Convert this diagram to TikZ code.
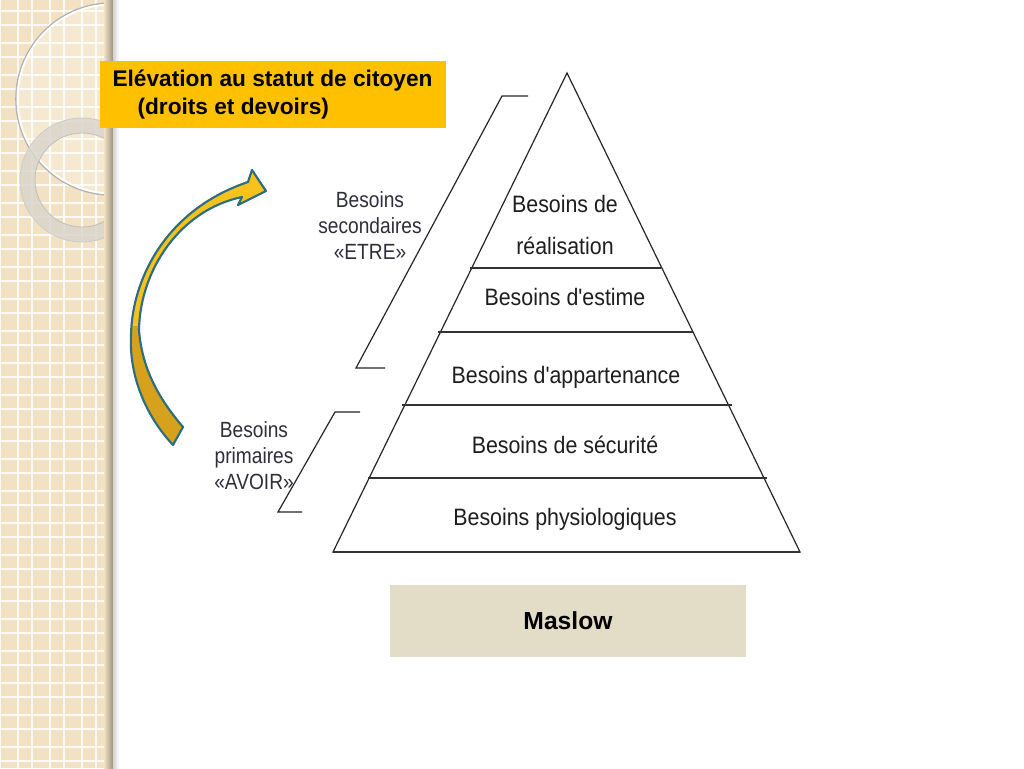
\documentclass[tikz,border=0pt]{standalone}
\usepackage{fontspec}
\setmainfont{Liberation Sans}
\newfontfamily\narrowfont[FakeStretch=0.9]{Liberation Sans}
\newfontfamily\labelfont[FakeStretch=0.87]{Liberation Sans}
\definecolor{stripbeige}{HTML}{F2E2C3}
\definecolor{ringgray}{HTML}{DAD6CC}
\definecolor{citoyen}{HTML}{FFC000}
\definecolor{maslowbg}{HTML}{E3DCC6}
\definecolor{arrowtop}{HTML}{F7C21C}
\definecolor{arrowbot}{HTML}{D6A11C}
\definecolor{arrowline}{HTML}{2C6E7E}
\definecolor{labelcol}{HTML}{2E2E3C}
\definecolor{pyrtext}{HTML}{1E1E1E}
\tikzset{
  gridline/.style={white, line width=1.1pt, opacity=0.85},
  pyrline/.style={line width=0.9pt, black!85},
  levelline/.style={line width=1.3pt, black!80},
  pyrlabel/.style={font=\narrowfont\fontsize{17.8}{20}\selectfont, text=pyrtext, anchor=base, inner sep=0pt},
  sidelabel/.style={font=\labelfont\fontsize{16.5}{19.5}\selectfont, text=labelcol, align=center, inner sep=0pt},
  bracket/.style={line width=0.9pt, black!85},
  citbox/.style={fill=citoyen, minimum width=259.5pt, minimum height=50.25pt, align=left, inner sep=0pt, font=\bfseries\fontsize{17}{20.5}\selectfont},
  maslowbox/.style={fill=maslowbg, minimum width=267pt, minimum height=54pt, inner sep=0pt, font=\bfseries\fontsize{18.5}{22}\selectfont}
}
\begin{document}
\begin{tikzpicture}[x=0.75pt,y=-0.75pt]
\useasboundingbox (0,0) rectangle (1024,768);
\fill[white] (0,0) rectangle (1024,768);
% left decorative strip
\fill[stripbeige] (0,0) rectangle (113,768);
\foreach \k in {0,...,3} {
  \draw[gridline] ({18+32*\k},0) -- ({18+32*\k},768);
  \draw[gridline] ({0+32*\k},0) -- ({0+32*\k},768);
}
\foreach \k in {0,...,23} {
  \draw[gridline] (0,{11+32*\k}) -- (113,{11+32*\k});
  \draw[gridline] (0,{25+32*\k}) -- (113,{25+32*\k});
}
\begin{scope}
  \clip (0,0) rectangle (113,768);
  \fill[white, opacity=0.25] (112,99) circle[radius=95];
  \draw[black!30, line width=1.2pt] (112,99) circle[radius=96];
  \draw[white, line width=1.4pt] (112,99) circle[radius=94.5];
  \fill[ringgray, opacity=0.85, even odd rule] (82,180) circle[radius=62] (82,180) circle[radius=47];
  \draw[black!20, line width=0.6pt] (82,180) circle[radius=62];
  \draw[black!25, line width=0.6pt] (82,180) circle[radius=47];
\end{scope}
\shade[left color=stripbeige, right color=black!35!stripbeige] (104,0) rectangle (113,768);
\shade[left color=black!18, right color=white] (113,0) rectangle (119,768);

% citizen box
\node[citbox] (cit) at (272.5,94.5) {Elévation au statut de citoyen\\\hspace*{18.75pt}(droits et devoirs)};

% curved arrow
\def\arrowpath{(173,445) .. controls (145,415) and (129,375) .. (131,335)
  .. controls (132,280) and (165,210) .. (248,182) -- (252,170) -- (266,191) -- (238,205) -- (242,197)
  .. controls (180,210) and (140,270) .. (139,330)
  .. controls (142,370) and (160,400) .. (183,427) -- cycle}
\fill[arrowbot] \arrowpath;
\begin{scope}
  \clip (100,150) rectangle (300,325);
  \fill[arrowtop] \arrowpath;
\end{scope}
\draw[arrowline, line width=1.6pt, line join=round] \arrowpath;

% pyramid
\coordinate (apex) at (567,73);
\coordinate (bl) at (333,552);
\coordinate (br) at (800,552);
\draw[pyrline, line join=miter] (apex) -- (bl) -- (br) -- cycle;
\coordinate (l1a) at (470,268); \coordinate (l1b) at (661,268);
\coordinate (l2a) at (438,332); \coordinate (l2b) at (693,332);
\coordinate (l3a) at (402,405); \coordinate (l3b) at (732,405);
\coordinate (l4a) at (368,478); \coordinate (l4b) at (767,478);
\draw[levelline] (l1a) -- (l1b);
\draw[levelline] (l2a) -- (l2b);
\draw[levelline] (l3a) -- (l3b);
\draw[levelline] (l4a) -- (l4b);
\draw[levelline] (bl) -- (br);

\node[pyrlabel] (real1) at (565,212) {Besoins de};
\node[pyrlabel] (real2) at (565,254) {réalisation};
\node[pyrlabel] (estime) at (565,305) {Besoins d'estime};
\node[pyrlabel] (appart) at (566,383) {Besoins d'appartenance};
\node[pyrlabel] (secu) at (565,453) {Besoins de sécurité};
\node[pyrlabel] (physio) at (565,525) {Besoins physiologiques};

% brackets
\coordinate (b1t) at (528,96); \coordinate (b1a) at (502,96);
\coordinate (b1b) at (356,368); \coordinate (b1c) at (385,368);
\draw[bracket] (b1t) -- (b1a) -- (b1b) -- (b1c);
\coordinate (b2t) at (360,412); \coordinate (b2a) at (335,412);
\coordinate (b2b) at (278,512); \coordinate (b2c) at (302,512);
\draw[bracket] (b2t) -- (b2a) -- (b2b) -- (b2c);

\node[sidelabel] (second) at (370,226) {Besoins\\secondaires\\«ETRE»};
\node[sidelabel] (prim) at (254,456) {Besoins\\primaires\\«AVOIR»};

% Maslow box
\node[maslowbox] (maslow) at (568,621) {Maslow};
\end{tikzpicture}
\end{document}
